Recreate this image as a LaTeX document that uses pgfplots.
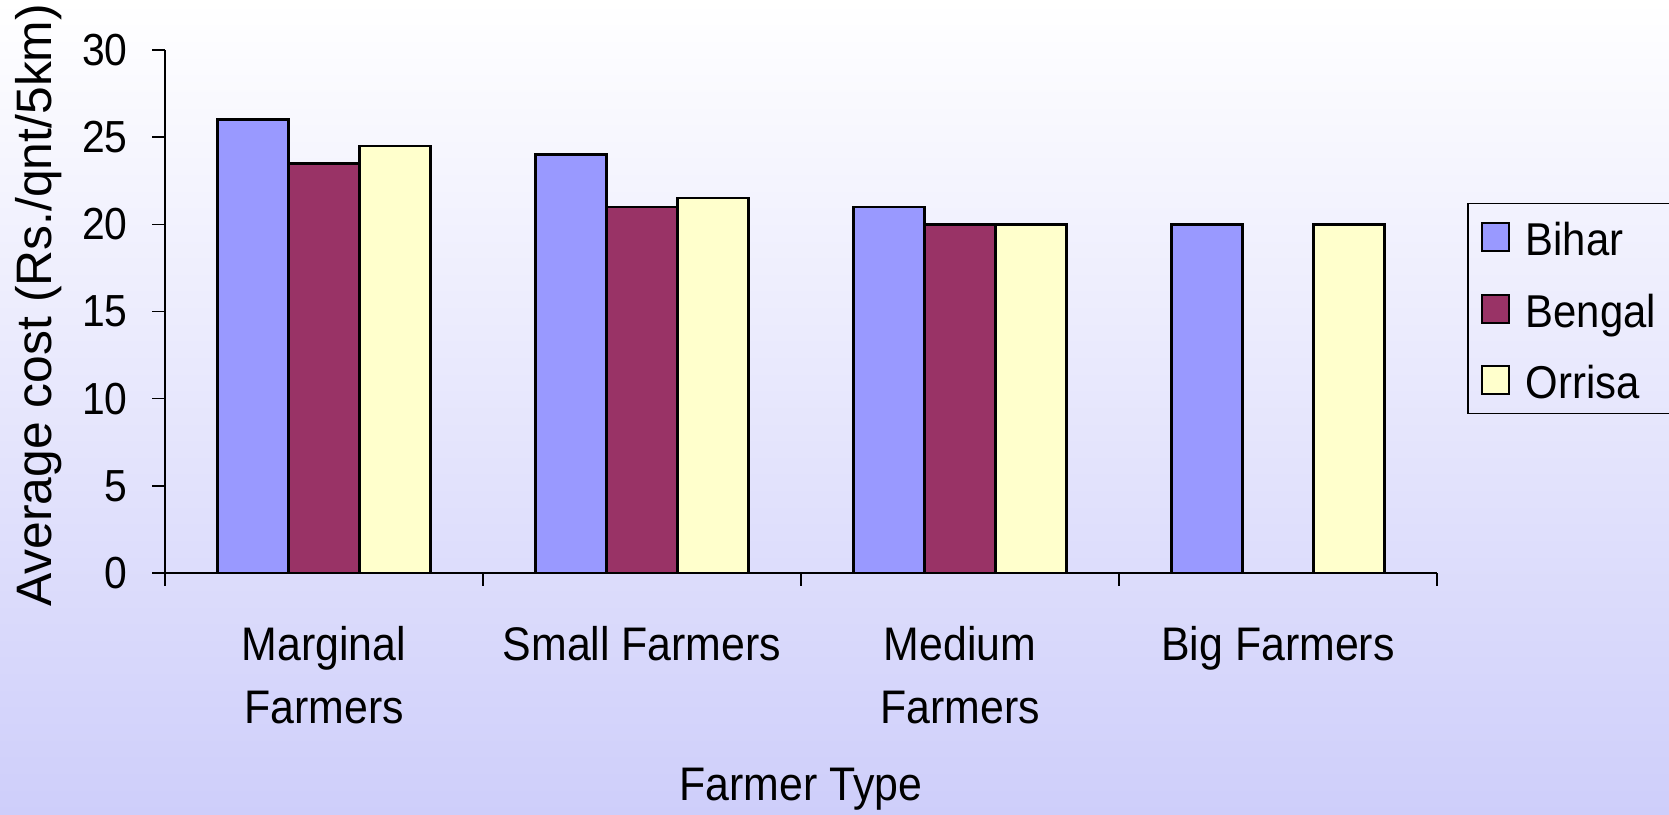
\documentclass[border=0pt]{standalone}
\usepackage{fontspec}
\setmainfont{Liberation Sans}
\usepackage{graphicx}
\usepackage{pgfplots}
\pgfplotsset{compat=1.18}
\definecolor{bihar}{RGB}{153,153,255}
\definecolor{bengal}{RGB}{153,51,102}
\definecolor{orrisa}{RGB}{255,255,204}
\definecolor{bgtop}{RGB}{255,255,255}
\definecolor{bgbot}{RGB}{206,206,250}
% slightly tall lettering
\newcommand{\tall}[1]{\scalebox{1}[1.1]{#1}}
\newcommand{\twolines}[2]{\tall{\begin{tabular}{@{}c@{}}#1\\#2\end{tabular}}}

\begin{document}
\begin{tikzpicture}[x=1bp,y=1bp]
% page background with vertical gradient
\shade[top color=bgtop, bottom color=bgbot] (0,0) rectangle (1669,815);
\useasboundingbox (0,0) rectangle (1669,815);
\begin{axis}[
  at={(165bp,242bp)}, anchor=south west,
  scale only axis, width=1272bp, height=523bp,
  xmin=-0.5, xmax=3.5, ymin=0, ymax=30,
  ybar,
  axis x line=bottom, axis y line=left,
  axis line style={-, black, line width=1.5bp},
  tick align=outside, major tick length=13bp,
  tick style={black, line width=1.5bp},
  font=\fontsize{43}{58}\selectfont,
  /pgf/number format/assume math mode=true,
  ytick={0,5,...,30},
  yticklabel={\tall{\pgfmathprintnumber{\tick}}},
  yticklabel style={xshift=-21bp, font=\fontsize{41}{50}\selectfont},
  xtick={-0.5,0.5,1.5,2.5,3.5},
  xticklabels={,,,,},
  extra x ticks={0,1,2,3},
  extra x tick labels={\twolines{Marginal}{Farmers},\twolines{Small Farmers}{},\twolines{Medium}{Farmers},\twolines{Big Farmers}{}},
  extra x tick style={tick style={draw=none},
    tick label style={anchor=north, yshift=-26bp}},
  xlabel={\tall{Farmer Type}},
  xlabel style={at={(axis description cs:0.5,-0.414)}, anchor=center},
  ylabel={Average cost (Rs./qnt/5km)},
  ylabel style={at={(axis description cs:-0.0995,0.512)}, anchor=center,
    font=\fontsize{50}{58}\selectfont},
  bar width=71bp,
  legend style={at={(1.0236,0.7075)}, anchor=north west,
    draw=black, line width=1.5bp, fill=none,
    font=\fontsize{42}{50}\selectfont,
    inner xsep=13bp, inner ysep=8bp, row sep=20.5bp,
    nodes={text height=42bp, text depth=5bp},
    /tikz/every odd column/.append style={column sep=14bp}},
  legend cell align=left,
  legend image code/.code={\draw[#1, line width=2bp] (0bp,-14bp) rectangle (27bp,14bp);},
]
\addplot[fill=bihar, draw=black, line width=2.5bp, bar shift=-71bp]
  coordinates {(0,26) (1,24) (2,21) (3,20)};
\addplot[fill=bengal, draw=black, line width=2.5bp, bar shift=0bp]
  coordinates {(0,23.5) (1,21) (2,20)};
\addplot[fill=orrisa, draw=black, line width=2.5bp, bar shift=71bp]
  coordinates {(0,24.5) (1,21.5) (2,20) (3,20)};
\legend{\makebox[160bp][l]{\tall{Bihar}}, \makebox[160bp][l]{\tall{Bengal}}, \makebox[160bp][l]{\tall{Orrisa}}}
\end{axis}
\end{tikzpicture}
\end{document}
